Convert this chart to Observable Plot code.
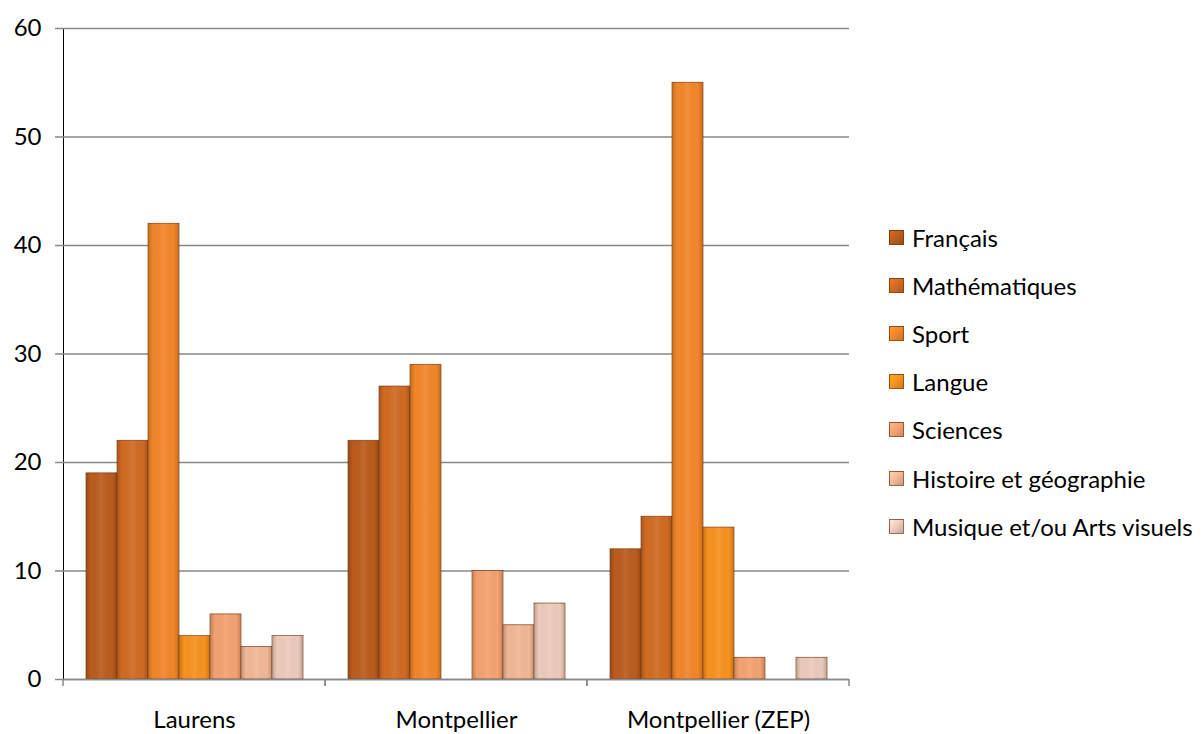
<!DOCTYPE html>
<html>
<head>
<meta charset="utf-8">
<script src="https://cdn.jsdelivr.net/npm/d3@7"></script>
<script src="https://cdn.jsdelivr.net/npm/@observablehq/plot@0.6"></script>
<style>
  body { margin: 0; background: #fff; }
  #wrap { position: relative; width: 1203px; height: 734px; overflow: hidden; font-family: Lato, "Open Sans", sans-serif; }
  #chart { position: absolute; left: 0; top: 0; }
  #legend { position: absolute; left: 889px; top: 213px; font-size: 24px; color: #000; }
  .item { height: 48.2px; display: flex; align-items: center; white-space: nowrap; }
  .sw { width: 15px; height: 15px; margin-right: 8px; box-sizing: border-box; border: 1px solid rgba(90,40,10,0.6); }
</style>
</head>
<body>
<svg width="0" height="0" style="position:absolute">
  <defs>
    <linearGradient id="shade" x1="0" x2="1" y1="0" y2="0">
      <stop offset="0" stop-color="#000" stop-opacity="0.18"/>
      <stop offset="0.15" stop-color="#000" stop-opacity="0"/>
      <stop offset="0.5" stop-color="#fff" stop-opacity="0.08"/>
      <stop offset="0.85" stop-color="#000" stop-opacity="0"/>
      <stop offset="1" stop-color="#000" stop-opacity="0.18"/>
    </linearGradient>
  </defs>
</svg>
<div id="wrap"><div id="chart"></div><div id="legend"></div></div>
<script>
const groups = ["Laurens", "Montpellier", "Montpellier (ZEP)"];
const subjects = ["Français", "Mathématiques", "Sport", "Langue", "Sciences", "Histoire et géographie", "Musique et/ou Arts visuels"];
const colors = ["#bb5c1d", "#d06b22", "#f2862a", "#f7921f", "#f4a271", "#f1b796", "#edcabb"];
const laurens = [19, 22, 42, 4, 6, 3, 4];
const montpellier = [22, 27, 29, 0, 10, 5, 7];
const montpellierZep = [12, 15, 55, 14, 2, 0, 2];
const yTicks = [0, 10, 20, 30, 40, 50, 60];

const rows = [];
[laurens, montpellier, montpellierZep].forEach((vals, gi) =>
  vals.forEach((v, si) => rows.push({group: groups[gi], subject: subjects[si], value: v})));
const shown = rows.filter(d => d.value > 0);

const gray = "#898989";

const chart = Plot.plot({
  width: 870,
  height: 734,
  marginLeft: 63,
  marginRight: 21,
  marginTop: 28,
  marginBottom: 55,
  style: {fontFamily: "Lato, 'Open Sans', sans-serif", fontSize: "24px", color: "#000", background: "transparent"},
  fx: {domain: groups, padding: 0, label: null, tickSize: 0, tickPadding: 31, axis: "bottom"},
  x: {domain: subjects, axis: null, paddingInner: 0, paddingOuter: 0.71},
  y: {domain: [0, 60], ticks: yTicks, tickSize: 8, tickPadding: 14, label: null, line: true},
  color: {domain: subjects, range: colors},
  marks: [
    Plot.gridY(yTicks, {stroke: gray, strokeOpacity: 1, strokeWidth: 1.5}),
    Plot.barY(shown, {
      fx: "group", x: "subject", y: "value", fill: "subject",
      stroke: "#6e3410", strokeWidth: 0.8, strokeOpacity: 0.8
    }),
    Plot.barY(shown, {fx: "group", x: "subject", y: "value", fill: "url(#shade)", insetLeft: 0.5, insetRight: 0.5}),
    Plot.ruleY([0], {stroke: gray, strokeWidth: 1.5}),
    (index, scales) => {
      const [a, b] = scales.x.range();
      const y0 = scales.y(0);
      const g = d3.create("svg:g").attr("stroke", gray).attr("stroke-width", 1.5);
      for (const x of [a, b]) g.append("line").attr("x1", x).attr("x2", x).attr("y1", y0).attr("y2", y0 + 7);
      return g.node();
    }
  ]
});
d3.select(chart).selectAll("[aria-label='y-axis tick'] path, [aria-label='y-axis tick']").attr("stroke", gray).attr("stroke-width", 1.5);
document.getElementById("chart").appendChild(chart);

const color = chart.scale("color");
const legend = d3.select("#legend");
subjects.forEach(s => {
  const c = color.apply(s);
  const it = legend.append("div").attr("class", "item");
  it.append("div").attr("class", "sw").style("background", `linear-gradient(135deg, ${d3.color(c).brighter(0.4)}, ${c} 50%, ${d3.color(c).darker(0.5)})`);
  it.append("span").text(s);
});
</script>
</body>
</html>
